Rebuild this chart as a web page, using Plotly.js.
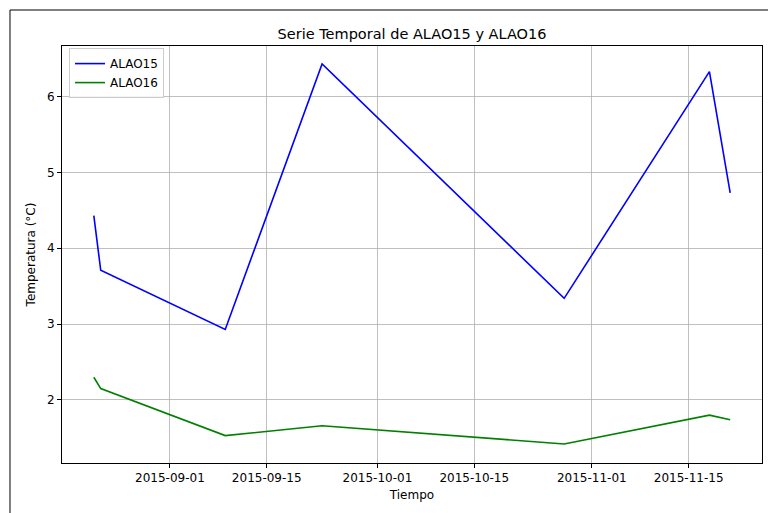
<!DOCTYPE html>
<html>
<head>
<meta charset="utf-8">
<script src="https://cdn.plot.ly/plotly-3.0.1.min.js"></script>
<style>
  body { margin: 0; background: #fff; }
  #chart { width: 768px; height: 513px; }
</style>
</head>
<body>
<div id="chart"></div>
<script>
// fechas de las mediciones
var fechas = ['2015-08-21', '2015-08-22', '2015-09-09', '2015-09-23', '2015-10-28', '2015-11-18', '2015-11-21'];
var alao15 = [4.43, 3.71, 2.93, 6.43, 3.34, 6.33, 4.73];
var alao16 = [2.30, 2.15, 1.53, 1.66, 1.42, 1.80, 1.74];
var tickFechas = ['2015-09-01', '2015-09-15', '2015-10-01', '2015-10-15', '2015-11-01', '2015-11-15'];

var font = 'DejaVu Sans, Liberation Sans, sans-serif';

var trace1 = {
  x: fechas,
  y: alao15,
  mode: 'lines',
  name: 'ALAO15',
  line: { color: '#0000ff', width: 1.6 }
};

var trace2 = {
  x: fechas,
  y: alao16,
  mode: 'lines',
  name: 'ALAO16',
  line: { color: '#008000', width: 1.6 }
};

var layout = {
  width: 768,
  height: 513,
  margin: { l: 62, r: 6, t: 46, b: 50 },
  paper_bgcolor: '#fff',
  plot_bgcolor: '#fff',
  font: { family: font, size: 12, color: '#000' },
  title: {
    text: 'Serie Temporal de ALAO15 y ALAO16',
    font: { size: 14.5, color: '#000' },
    x: 0.5, xref: 'paper', xanchor: 'center',
    y: 0.934, yref: 'container', yanchor: 'middle'
  },
  xaxis: {
    type: 'date',
    title: { text: 'Tiempo', font: { size: 12 }, standoff: 6 },
    range: ['2015-08-16 09:36', '2015-11-25 14:24'],
    autorange: false,
    tickmode: 'array',
    tickvals: tickFechas,
    ticktext: tickFechas,
    ticks: 'outside', ticklen: 4, tickcolor: '#000', tickwidth: 1,
    showgrid: true, gridcolor: '#b0b0b0', gridwidth: 0.8,
    showline: true, linecolor: '#000', linewidth: 1, mirror: true,
    zeroline: false
  },
  yaxis: {
    title: { text: 'Temperatura (°C)', font: { size: 12 }, standoff: 8 },
    range: [1.169, 6.667],
    autorange: false,
    tickvals: [2, 3, 4, 5, 6],
    ticks: 'outside', ticklen: 4, tickcolor: '#000', tickwidth: 1,
    showgrid: true, gridcolor: '#b0b0b0', gridwidth: 0.8,
    showline: true, linecolor: '#000', linewidth: 1, mirror: true,
    zeroline: false
  },
  showlegend: true,
  legend: {
    x: 0.01, y: 0.995, xanchor: 'left', yanchor: 'top',
    bgcolor: 'rgba(255,255,255,0.8)',
    bordercolor: '#cccccc', borderwidth: 1,
    font: { size: 12 },
    tracegroupgap: 0
  },
  shapes: [{
    type: 'rect', xref: 'paper', yref: 'paper',
    x0: -0.0743, x1: 1.5, y0: -0.5, y1: 1.0863,
    line: { color: '#000', width: 1 }
  }]
};

Plotly.newPlot('chart', [trace1, trace2], layout, { displayModeBar: false, staticPlot: true });
</script>
</body>
</html>
